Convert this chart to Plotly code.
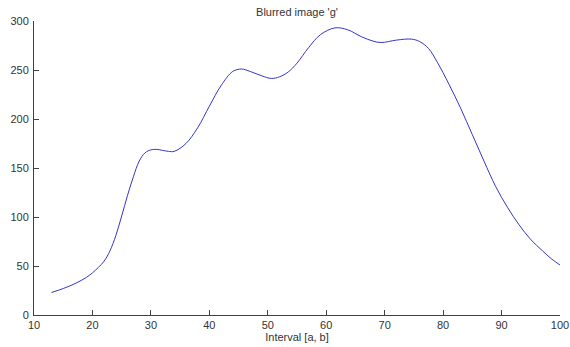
import plotly.graph_objects as go

x_vals = [13, 15, 17, 19, 20, 21, 22, 23, 24, 25, 26, 27, 28, 29, 30, 31, 32, 33, 34, 36, 38,
          40, 42, 44, 45.5, 47, 49, 50.6, 52, 53.5, 55, 57, 59, 61.5, 63.7, 66, 68, 69.4, 72,
          74.6, 76, 77.5, 79, 81, 83, 85, 87, 89, 91, 93, 95, 97, 98.5, 100]
y_vals = [23, 27, 32, 38.5, 43, 48.5, 55, 65.5, 81, 101, 122, 141, 157, 165.5, 168.5, 169,
          168, 167, 167, 175, 191, 213, 234, 248.5, 251, 248.5, 244, 241.4, 243, 248, 257, 273,
          286, 293, 291, 284, 279.5, 278, 280.5, 281.5, 279, 272, 258, 235.5, 211, 184,
          157, 131, 110, 92, 77, 65.5, 57.5, 51]

x_ticks = [10, 20, 30, 40, 50, 60, 70, 80, 90, 100]
y_ticks = [0, 50, 100, 150, 200, 250, 300]

title_text = "Blurred image 'g'"
x_label = "Interval [a, b]"

fig = go.Figure()
fig.add_trace(go.Scatter(
    x=x_vals, y=y_vals, mode="lines",
    line=dict(color="#3535cc", width=1, shape="spline", smoothing=1.0),
    showlegend=False,
))

axis_common = dict(
    showline=True, linecolor="#404040", linewidth=1,
    ticks="inside", ticklen=5, tickcolor="#404040", tickwidth=1,
    showgrid=False, zeroline=False, automargin=False,
    tickfont=dict(family="Liberation Sans, Arial, sans-serif", size=11, color="#333333"),
)

fig.update_layout(
    width=570, height=347,
    margin=dict(l=34, r=10, t=21, b=32, pad=0),
    paper_bgcolor="white", plot_bgcolor="white",
    font=dict(family="Liberation Sans, Arial, sans-serif", size=11, color="#333333"),
    title=dict(text=title_text, x=297 / 570, xanchor="center", y=1 - 12 / 347, yanchor="middle",
               yref="container", font=dict(size=11, color="#333333"), automargin=False),
    xaxis=dict(range=[10, 100], tickvals=x_ticks, ticktext=[str(v) for v in x_ticks],
               title=dict(text=x_label, standoff=2, font=dict(size=11, color="#333333")),
               ticklabelstandoff=0, **axis_common),
    yaxis=dict(range=[0, 300], tickvals=y_ticks, ticktext=[str(v) for v in y_ticks],
               ticklabelstandoff=2, **axis_common),
)

fig.write_html("out.html")
